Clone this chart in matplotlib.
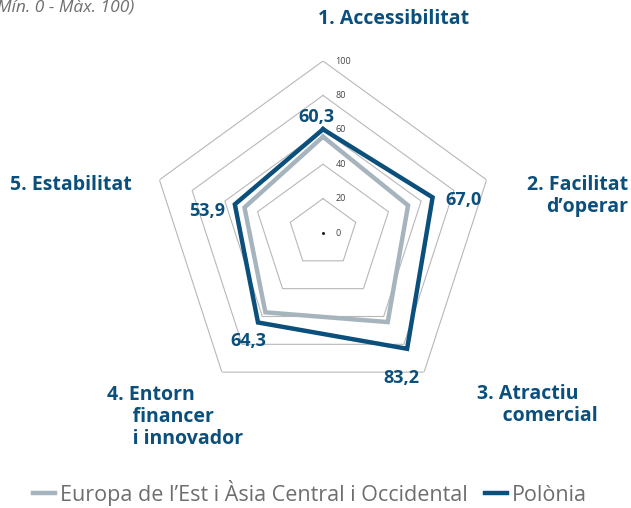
import numpy as np
import matplotlib
matplotlib.use("Agg")
import matplotlib.pyplot as plt

plt.rcParams['font.family'] = ['Open Sans', 'DejaVu Sans']

categories = ["1. Accessibilitat", "2. Facilitat\nd\u2019operar", "3. Atractiu\ncomercial",
              "4. Entorn\nfinancer\ni innovador", "5. Estabilitat"]
region_vals = [56.0, 52.0, 64.0, 57.0, 48.0]
polonia_vals = [60.3, 67.0, 83.2, 64.3, 53.9]
polonia_labels = ["60,3", "67,0", "83,2", "64,3", "53,9"]
rings = [20, 40, 60, 80, 100]
ring_labels = ["20", "40", "60", "80", "100"]

dark = "#0b4f7c"
grey_line = "#a6b5bd"
grid_col = "#b8b8b8"
text_grey = "#6d6e70"

n = len(categories)
angles = np.linspace(0, 2 * np.pi, n, endpoint=False)
ang_c = np.append(angles, angles[0])

fig = plt.figure(figsize=(6.31, 5.08), dpi=100)
ax = fig.add_axes([151 / 631, 103 / 508, 344 / 631, 344 / 508], projection="polar")
ax.set_theta_offset(np.pi / 2)
ax.set_theta_direction(-1)
ax.set_ylim(0, 100)
ax.grid(False)
ax.spines["polar"].set_visible(False)
ax.set_xticks([])
ax.set_yticks([])
ax.patch.set_visible(False)

# polygon grid
for r in rings:
    ax.plot(ang_c, [r] * (n + 1), color=grid_col, lw=0.8, zorder=1)
for r, lab in zip([0] + rings, ["0"] + ring_labels):
    ax.annotate(lab, xy=(0, r), xytext=(9, 0), textcoords="offset points",
                ha="left", va="center", fontsize=6.5, color="#444444")
ax.plot([0], [0], marker="o", ms=1.2, color="#222222")

# series
r_c = np.append(region_vals, region_vals[0])
p_c = np.append(polonia_vals, polonia_vals[0])
ax.plot(ang_c, r_c, color=grey_line, lw=3.2, zorder=3, solid_joinstyle="miter",
        label="Europa de l\u2019Est i \u00c0sia Central i Occidental")
ax.plot(ang_c, p_c, color=dark, lw=3.2, zorder=4, solid_joinstyle="miter",
        label="Pol\u00f2nia")

# value labels
val_offsets = [(-5, 9), (22, -2), (-4, -21), (-7, -13), (-20, -5)]
for a, v, lab, off in zip(angles, polonia_vals, polonia_labels, val_offsets):
    ax.annotate(lab, xy=(a, v), xytext=off, textcoords="offset points",
                ha="center", va="center", fontsize=13, fontweight="bold", color=dark)

# category labels (figure coordinates)
cat_pos = [(394, 19, "center"), (628, 196, "right"),
           (477, 405, "left"), (107, 417, "left"), (10, 185, "left")]
cat_texts = ["1. Accessibilitat", "2. Facilitat\nd\u2019operar", "3. Atractiu\n     comercial",
             "4. Entorn\n     financer\n     i innovador", "5. Estabilitat"]
for (x, y, ha), t in zip(cat_pos, cat_texts):
    fig.text(x / 631, 1 - y / 508, t, ha=ha, va="center", fontsize=14, fontweight="bold",
             color=dark, linespacing=1.1, multialignment=ha)

fig.text(-8 / 631, 1 - 8 / 508, "(M\u00edn. 0 - M\u00e0x. 100)", ha="left", va="center",
         fontsize=12.5, style="italic", color=text_grey)

leg = fig.legend(loc="center", bbox_to_anchor=(310 / 631, 1 - 493 / 508), ncol=2, frameon=False,
                 fontsize=15.5, handlelength=1.0, handletextpad=0.25, columnspacing=0.8)
for t in leg.get_texts():
    t.set_color(text_grey)

fig.savefig("out.png", dpi=100)
